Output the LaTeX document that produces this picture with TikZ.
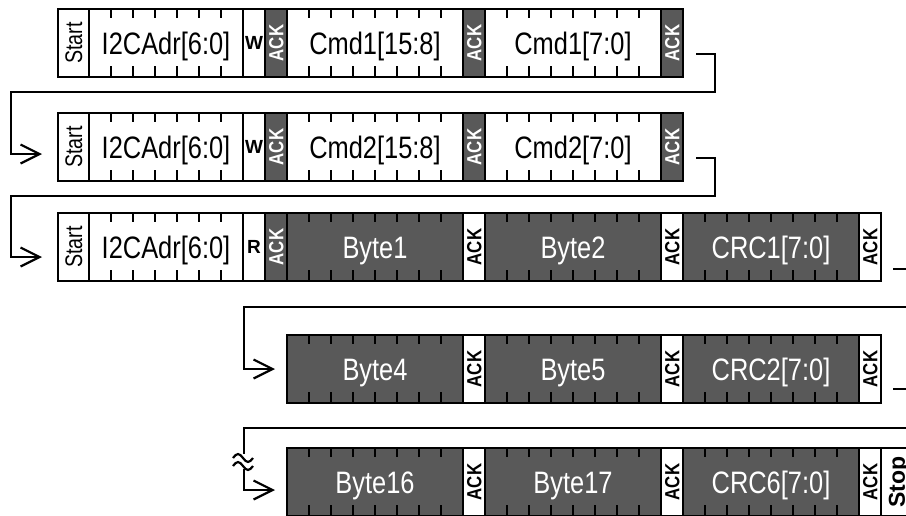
\documentclass[tikz,border=0pt]{standalone}
\usepackage{fontspec}
\setmainfont{Liberation Sans}
\newfontfamily\narrowfont[FakeStretch=0.82]{Liberation Sans}
\usetikzlibrary{calc}
\usetikzlibrary{arrows.meta}
\definecolor{bytegray}{RGB}{89,89,89}
\tikzstyle{field} = [draw, line width=1.2pt, anchor=west, minimum height=68pt, inner sep=0pt, outer sep=0pt, text height=22pt, text depth=0pt, font=\narrowfont\fontsize{31}{31}\selectfont]
\tikzstyle{light} = [field, fill=white]
\tikzstyle{dark} = [field, fill=bytegray, text=white]
\tikzstyle{edgew} = [minimum width=31pt]
\tikzstyle{addrw} = [minimum width=154pt]
\tikzstyle{ackw} = [minimum width=22pt]
\tikzstyle{bytew} = [minimum width=176pt]
\tikzstyle{bitlab} = [inner sep=0pt, text height=13.6pt, text depth=0pt, font=\bfseries\fontsize{19}{19}\selectfont]
\tikzstyle{vlab} = [bitlab, rotate=90, text height=14.6pt, font=\narrowfont\bfseries\fontsize{20.5}{20.5}\selectfont]
\tikzstyle{startlab} = [vlab, text height=17.2pt, font=\narrowfont\fontsize{24}{24}\selectfont]
\tikzstyle{stoplab} = [vlab, text height=16.5pt, font=\bfseries\fontsize{23}{23}\selectfont]
\tikzstyle{tick} = [line width=1.2pt]
\tikzstyle{link} = [line width=2.2pt, -{Straight Barb[length=19pt,width=19pt]}]

\begin{document}
\begin{tikzpicture}[x=1pt,y=-1pt]
\useasboundingbox (0,0) rectangle (906,515);
\clip (0,0) rectangle (906,515);

% Nodes: write of the command
\node[light, edgew] (r1start) at (58,43) {};
\node[light, addrw] (r1addr) at (89,43) {I2CAdr[6:0]};
\node[light, ackw] (r1rw) at (243,43) {};
\node[dark, ackw] (r1ack1) at (265,43) {};
\node[light, bytew] (r1cmdhi) at (287,43) {Cmd1[15:8]};
\node[dark, ackw] (r1ack2) at (463,43) {};
\node[light, bytew] (r1cmdlo) at (485,43) {Cmd1[7:0]};
\node[dark, ackw] (r1ack3) at (661,43) {};

\node[light, edgew] (r2start) at (58,147) {};
\node[light, addrw] (r2addr) at (89,147) {I2CAdr[6:0]};
\node[light, ackw] (r2rw) at (243,147) {};
\node[dark, ackw] (r2ack1) at (265,147) {};
\node[light, bytew] (r2cmdhi) at (287,147) {Cmd2[15:8]};
\node[dark, ackw] (r2ack2) at (463,147) {};
\node[light, bytew] (r2cmdlo) at (485,147) {Cmd2[7:0]};
\node[dark, ackw] (r2ack3) at (661,147) {};

% Nodes: read of the data
\node[light, edgew] (r3start) at (58,247) {};
\node[light, addrw] (r3addr) at (89,247) {I2CAdr[6:0]};
\node[light, ackw] (r3rw) at (243,247) {};
\node[dark, ackw] (r3ack1) at (265,247) {};
\node[dark, bytew] (r3byte1) at (287,247) {Byte1};
\node[light, ackw] (r3ack2) at (463,247) {};
\node[dark, bytew] (r3byte2) at (485,247) {Byte2};
\node[light, ackw] (r3ack3) at (661,247) {};
\node[dark, bytew] (r3crc) at (683,247) {CRC1[7:0]};
\node[light, ackw] (r3ack4) at (859,247) {};

\node[dark, bytew] (r4byte4) at (287,369) {Byte4};
\node[light, ackw] (r4ack1) at (463,369) {};
\node[dark, bytew] (r4byte5) at (485,369) {Byte5};
\node[light, ackw] (r4ack2) at (661,369) {};
\node[dark, bytew] (r4crc) at (683,369) {CRC2[7:0]};
\node[light, ackw] (r4ack3) at (859,369) {};

\node[dark, bytew] (r5byte16) at (287,482) {Byte16};
\node[light, ackw] (r5ack1) at (463,482) {};
\node[dark, bytew] (r5byte17) at (485,482) {Byte17};
\node[light, ackw] (r5ack2) at (661,482) {};
\node[dark, bytew] (r5crc) at (683,482) {CRC6[7:0]};
\node[light, ackw] (r5ack3) at (859,482) {};
\node[light, edgew] (r5stop) at (881,482) {};

% Bit ticks
\foreach \f/\n in {r1addr/6,r2addr/6,r3addr/6,r1cmdhi/7,r1cmdlo/7,r2cmdhi/7,r2cmdlo/7,
  r3byte1/7,r3byte2/7,r3crc/7,r4byte4/7,r4byte5/7,r4crc/7,r5byte16/7,r5byte17/7,r5crc/7}
  \foreach \k in {1,...,\n} {
    \draw[tick] ($(\f.north west)+(22*\k,0)$) -- ++(0,9);
    \draw[tick] ($(\f.south west)+(22*\k,0)$) -- ++(0,-11);
  }

% Labels
\foreach \s in {r1start,r2start,r3start}
  \node[startlab] at (\s) {Start};
\node[bitlab] at (r1rw) {W};
\node[bitlab] at (r2rw) {W};
\node[bitlab] at (r3rw) {R};
\foreach \a in {r1ack1,r1ack2,r1ack3,r2ack1,r2ack2,r2ack3,r3ack1}
  \node[vlab, text=white] at (\a) {ACK};
\foreach \a in {r3ack2,r3ack3,r3ack4,r4ack1,r4ack2,r4ack3,r5ack1,r5ack2,r5ack3}
  \node[vlab] at (\a) {ACK};
\node[stoplab] at (r5stop) {Stop};

% Edges
\coordinate (out1) at (696,54);
\coordinate (in2) at (42,154);
\coordinate (out2) at (696,158);
\coordinate (in3) at (42,257);
\coordinate (out3) at (893,269);
\coordinate (in4) at (275,369);
\coordinate (out4) at (893,389);
\coordinate (in5) at (275,490);

\draw[link] (out1) -| (715,92) -| (11,154) -- (in2);
\draw[link] (out2) -| (715,196) -| (11,257) -- (in3);
\draw[line width=2.2pt] (out3) -- ++(20,0);
\draw[link] (920,307) -| (244,369) -- (in4);
\draw[line width=2.2pt] (out4) -- ++(20,0);
\draw[link] (920,428) -| (244,490) -- (in5);

% break mark
\node[fill=white, inner sep=0pt, minimum width=8pt, minimum height=15pt] (gap) at (244,461.5) {};
\draw[line width=2.2pt] (233,458) sin (238,454) cos (243,458) sin (248,462) cos (253,458);
\draw[line width=2.2pt] (233,466) sin (238,462) cos (243,466) sin (248,470) cos (253,466);

\end{tikzpicture}
\end{document}
